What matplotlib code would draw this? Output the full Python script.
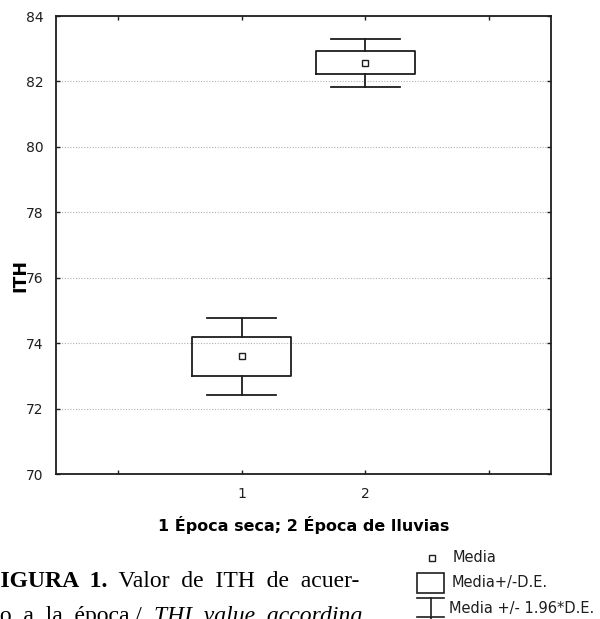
import matplotlib.pyplot as plt
from matplotlib.lines import Line2D
from matplotlib.patches import Rectangle

# values (ITH per season)
groups = [1, 2]
media = [73.6, 82.56]
de_low = [73.0, 82.22]       # media - D.E.
de_high = [74.2, 82.92]      # media + D.E.
ic_low = [72.42, 81.84]      # media - 1.96*D.E.
ic_high = [74.78, 83.30]     # media + 1.96*D.E.
x_ticks = [0, 1, 2, 3]
x_labels = ['', '1', '2', '']
y_ticks = [70, 72, 74, 76, 78, 80, 82, 84]

W, H = 600, 619
fig = plt.figure(figsize=(W / 100, H / 100), dpi=100)
ax = fig.add_axes([56 / W, 1 - 474 / H, (551 - 56) / W, (474 - 16) / H])


def px(x, y):
    """image pixel (top-left origin) -> figure fraction"""
    return x / W, 1 - y / H


stats = []
for i in range(len(groups)):
    stats.append(dict(med=media[i], mean=media[i], q1=de_low[i], q3=de_high[i],
                      whislo=ic_low[i], whishi=ic_high[i], fliers=[]))

lw = 1.3
ink = '#1e1e1e'
ax.bxp(stats, positions=groups, widths=0.8, capwidths=0.56,
       showmeans=True, showfliers=False,
       boxprops=dict(color=ink, linewidth=lw),
       whiskerprops=dict(color=ink, linewidth=lw),
       capprops=dict(color=ink, linewidth=lw),
       medianprops=dict(visible=False),
       meanprops=dict(marker='s', markersize=5, markerfacecolor='white',
                      markeredgecolor=ink, markeredgewidth=1.0))

ax.set_xlim(-0.5, 3.5)
ax.set_ylim(70, 84)
ax.set_xticks(x_ticks)
ax.set_xticklabels(x_labels)
ax.set_yticks(y_ticks)
ax.tick_params(direction='in', length=3, width=1, top=True, right=True,
               labelsize=10, colors=ink)
ax.tick_params(axis='x', pad=9)
ax.tick_params(axis='y', pad=9)
for lab in ax.get_xticklabels() + ax.get_yticklabels():
    lab.set_family('DejaVu Sans')
for s in ax.spines.values():
    s.set_linewidth(1.3)
    s.set_color(ink)
ax.grid(axis='y', linestyle=(0, (1, 1.5)), color='#b0b0b0', linewidth=0.8)
ax.set_axisbelow(True)

ax.set_xlabel('1 Época seca; 2 Época de lluvias', fontsize=11.5,
              fontweight='bold', family='DejaVu Sans', labelpad=11)
fig.text(*px(20, 275), 'ITH', rotation=90, fontsize=12.5, fontweight='bold',
         family='DejaVu Sans', ha='center', va='center')

# caption (justified, cut off by the page edge as in the scan)
cap = 17
sp = '  '
t1 = fig.text(*px(-14, 587), 'FIGURA' + sp + '1.', fontsize=cap,
              fontweight='bold', family='Liberation Serif', va='baseline')
ax.annotate(sp + 'Valor' + sp + 'de' + sp + 'ITH' + sp + 'de' + sp + 'acuer-',
            xy=(1, 0), xycoords=t1, fontsize=cap, family='Liberation Serif',
            va='bottom', annotation_clip=False)
t2 = fig.text(*px(-12, 622), 'do' + sp + 'a' + sp + 'la' + sp + 'época./' + sp,
              fontsize=cap, family='Liberation Serif', va='baseline')
ax.annotate('THI' + sp + 'value' + sp + 'according', xy=(1, 0), xycoords=t2,
            fontsize=cap, family='Liberation Serif', style='italic',
            va='bottom', annotation_clip=False)

# legend drawn by hand
fig.add_artist(Line2D([px(432, 558)[0]], [px(432, 558)[1]], marker='s',
                      markersize=5, markerfacecolor='white',
                      markeredgecolor=ink, markeredgewidth=1.0))
x0, y0 = px(417, 593)
fig.add_artist(Rectangle((x0, y0), 27 / W, 20 / H, transform=fig.transFigure,
                         fill=False, edgecolor=ink, linewidth=1.2))
for (xa, ya), (xb, yb) in [((417, 598), (444, 598)), ((431, 598), (431, 619)),
                           ((417, 617), (444, 617))]:
    p, q = px(xa, ya), px(xb, yb)
    fig.add_artist(Line2D([p[0], q[0]], [p[1], q[1]], color=ink,
                          linewidth=1.2))
leg_font = dict(fontsize=10.5, family='DejaVu Sans', va='center', ha='left',
                color=ink)
fig.text(*px(453, 558), 'Media', **leg_font)
fig.text(*px(452, 583), 'Media+/-D.E.', **leg_font)
fig.text(*px(449, 608), 'Media +/- 1.96*D.E.', **leg_font)

fig.savefig('out.png', dpi=100)
